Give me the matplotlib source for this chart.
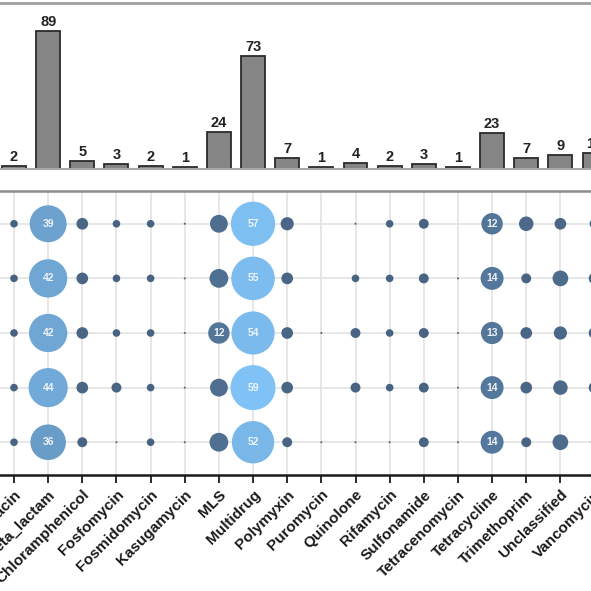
import numpy as np
import matplotlib
matplotlib.use("Agg")
import matplotlib.pyplot as plt
from matplotlib.colors import LinearSegmentedColormap

categories = ["Bacitracin", "beta_lactam", "Chloramphenicol", "Fosfomycin", "Fosmidomycin",
              "Kasugamycin", "MLS", "Multidrug", "Polymyxin", "Puromycin", "Quinolone",
              "Rifamycin", "Sulfonamide", "Tetracenomycin", "Tetracycline", "Trimethoprim",
              "Unclassified", "Vancomycin"]
bar_counts = [2, 89, 5, 3, 2, 1, 24, 73, 7, 1, 4, 2, 3, 1, 23, 7, 9, 10]
samples = ["S1", "S2", "S3", "S4", "S5"]  # top to bottom
nan = np.nan
# rows = samples (top to bottom), columns = categories
row_s1 = [1, 39, 3, 1, 1, 0, 8, 57, 4, nan, 0, 1, 2, nan, 12, 5, 3, 2]
row_s2 = [1, 42, 3, 1, 1, 0, 9, 55, 3, nan, 1, 1, 2, 0, 14, 2, 6, 3]
row_s3 = [1, 42, 3, 1, 1, 0, 12, 54, 3, 0, 2, 1, 2, 0, 13, 3, 4, 3]
row_s4 = [1, 44, 3, 2, 1, 0, 8, 59, 3, nan, 2, 1, 2, 0, 14, 3, 5, 3]
row_s5 = [1, 36, 2, 0, 1, 0, 9, 52, 2, 0, 0, 0, 2, 0, 14, 2, 6, 1]
dot_rows = [row_s1, row_s2, row_s3, row_s4, row_s5]

plt.rcParams['font.family'] = ['Liberation Sans', 'DejaVu Sans']

W = 591
fig = plt.figure(figsize=(5.91, 5.91), dpi=100)

# x mapping: category i at pixel 14 + 34.15*i ; axes span pixels -59 .. 650
ax_left_px, ax_right_px = -59.1, 650.1
x0, dx = 14.0, 34.15
xlim = ((ax_left_px - x0) / dx, (ax_right_px - x0) / dx)
left_frac = ax_left_px / W
width_frac = (ax_right_px - ax_left_px) / W

def fy(px):
    return 1 - px / W

# ---- top bar panel ----
axb = fig.add_axes([left_frac, fy(169), width_frac, fy(3) - fy(169)])
xpos = np.arange(len(categories))
axb.bar(xpos, bar_counts, width=0.7, color="#858585", edgecolor="#2b2b2b", linewidth=1.3, zorder=2)
for xi, v in zip(xpos, bar_counts):
    axb.annotate(str(v), (xi, v), xytext=(0, 1.5), textcoords="offset points",
                 ha="center", va="bottom", fontsize=10.5, fontweight="bold", color="#222222")
axb.set_xlim(*xlim)
axb.set_ylim(0, 107)
axb.set_xticks([])
axb.set_yticks([])
for s in ["left", "right"]:
    axb.spines[s].set_visible(False)
axb.spines["top"].set_color("#a0a0a0")
axb.spines["top"].set_linewidth(2)
axb.spines["bottom"].set_color("#a8a8a8")
axb.spines["bottom"].set_linewidth(1.5)

# ---- dot panel ----
axd = fig.add_axes([left_frac, fy(475), width_frac, fy(191) - fy(475)])
cmap = LinearSegmentedColormap.from_list("blu", ["#47617f", "#80c2f6"])
vmax = 59.0
mat = np.array(dot_rows, dtype=float)
nrows = len(samples)
for r in range(nrows):
    yv = nrows - r
    vals = mat[r]
    ok = ~np.isnan(vals)
    xs = xpos[ok]
    vv = vals[ok]
    rad_px = 1 + 21.5 * np.sqrt(vv / vmax)
    sizes = (2 * rad_px * 0.72) ** 2
    axd.scatter(xs, np.full(len(xs), yv), s=sizes, c=vv, cmap=cmap, vmin=0, vmax=vmax,
                edgecolors="none", zorder=3)
    for xi, v in zip(xs, vv):
        if v >= 10:
            axd.text(xi, yv, f"{int(v)}", ha="center", va="center", fontsize=7.5,
                     fontweight="bold", color="#eef3f8", zorder=4)

axd.set_xlim(*xlim)
axd.set_ylim(0.4, nrows + 0.6)
axd.set_xticks(xpos)
axd.set_xticklabels(categories, rotation=45, ha="right", va="top", rotation_mode="anchor",
                    fontsize=11, fontweight="bold", color="#1a1a1a")
axd.set_yticks(np.arange(1, nrows + 1))
axd.set_yticklabels(samples[::-1])
axd.tick_params(axis="x", length=6, width=1.3, color="#1a1a1a", pad=3)
axd.tick_params(axis="y", length=0)
axd.grid(True, color="#e3e3e3", linewidth=1.2, zorder=0)
axd.set_axisbelow(True)
for s in ["left", "right"]:
    axd.spines[s].set_visible(False)
axd.spines["top"].set_color("#8c8c8c")
axd.spines["top"].set_linewidth(1.8)
axd.spines["bottom"].set_color("#1a1a1a")
axd.spines["bottom"].set_linewidth(1.8)

fig.savefig("out.png", dpi=100)
